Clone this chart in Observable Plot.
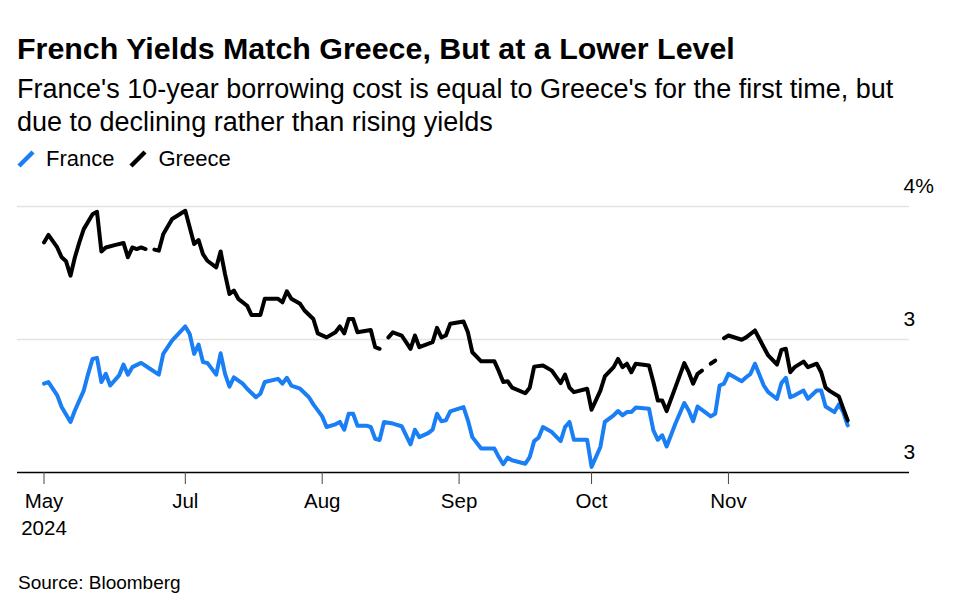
<!DOCTYPE html>
<html><head><meta charset="utf-8">
<script src="https://cdn.jsdelivr.net/npm/d3@7"></script>
<script src="https://cdn.jsdelivr.net/npm/@observablehq/plot@0.6"></script>
<style>
body{margin:0;background:#fff;font-family:"Liberation Sans",Arial,Helvetica,sans-serif;color:#000;}
#wrap{position:relative;width:964px;height:602px;overflow:hidden;background:#fff;}
.title{position:absolute;left:17px;top:30px;font-size:30.4px;font-weight:bold;line-height:36px;white-space:nowrap;}
.sub{position:absolute;left:17px;top:73px;font-size:27px;line-height:32.5px;width:905px;}
.legend{position:absolute;left:17px;top:146px;font-size:22px;line-height:26px;display:flex;align-items:center;}
.legend .item{display:flex;align-items:center;margin-right:15px;}
.legend svg{margin-right:11px;}
#chart{position:absolute;left:0;top:175px;}
.source{position:absolute;left:18px;top:571px;font-size:19px;line-height:24px;}
</style></head>
<body>
<div id="wrap">
  <div class="title">French Yields Match Greece, But at a Lower Level</div>
  <div class="sub">France's 10-year borrowing cost is equal to Greece's for the first time, but due to declining rather than rising yields</div>
  <div class="legend" id="legend"></div>
  <div id="chart"></div>
  <div class="source">Source: Bloomberg</div>
</div>
<script>
const seriesNames = ["France", "Greece"];
const seriesColors = ["#1a7ef5", "#000000"];

const xTickDates = ["2024-05-30", "2024-07-01", "2024-08-01", "2024-09-01", "2024-10-01", "2024-11-01"];
const xTickLabels = ["May\n2024", "Jul", "Aug", "Sep", "Oct", "Nov"];
const yTickValues = [3, 3.5, 4];
const yTickLabels = ["3", "3", "4%"];

const franceData = [
["2024-05-30",3.334],["2024-05-31",3.340],["2024-06-02",3.290],["2024-06-03",3.246],["2024-06-05",3.190],
["2024-06-06",3.233],["2024-06-08",3.308],["2024-06-09",3.371],["2024-06-10",3.427],["2024-06-11",3.431],
["2024-06-12",3.340],["2024-06-13",3.371],["2024-06-14",3.327],["2024-06-16",3.365],["2024-06-17",3.406],
["2024-06-18",3.368],["2024-06-19",3.396],["2024-06-21",3.412],["2024-06-23",3.390],["2024-06-25",3.368],
["2024-06-26",3.446],["2024-06-28",3.496],["2024-07-01",3.549],["2024-07-02",3.521],["2024-07-03",3.446],
["2024-07-04",3.481],["2024-07-05",3.415],["2024-07-06",3.412],["2024-07-08",3.368],["2024-07-09",3.448],
["2024-07-10",3.371],["2024-07-11",3.323],["2024-07-12",3.358],["2024-07-14",3.334],["2024-07-15",3.315],
["2024-07-17",3.283],["2024-07-18",3.296],["2024-07-19",3.340],["2024-07-22",3.352],["2024-07-23",3.334],
["2024-07-24",3.356],["2024-07-25",3.327],["2024-07-27",3.315],["2024-07-29",3.283],["2024-07-30",3.256],
["2024-08-01",3.211],["2024-08-02",3.171],["2024-08-04",3.181],["2024-08-05",3.190],["2024-08-06",3.161],
["2024-08-07",3.221],["2024-08-08",3.221],["2024-08-09",3.176],["2024-08-11",3.176],["2024-08-12",3.171],
["2024-08-13",3.127],["2024-08-14",3.122],["2024-08-15",3.190],["2024-08-17",3.184],["2024-08-19",3.174],
["2024-08-20",3.140],["2024-08-21",3.106],["2024-08-22",3.161],["2024-08-23",3.133],["2024-08-25",3.148],
["2024-08-26",3.161],["2024-08-27",3.221],["2024-08-28",3.193],["2024-08-29",3.196],["2024-08-30",3.230],
["2024-09-02",3.246],["2024-09-03",3.196],["2024-09-04",3.133],["2024-09-06",3.090],["2024-09-09",3.090],
["2024-09-10",3.058],["2024-09-11",3.031],["2024-09-12",3.056],["2024-09-13",3.046],["2024-09-16",3.033],
["2024-09-17",3.058],["2024-09-18",3.118],["2024-09-19",3.131],["2024-09-20",3.171],["2024-09-22",3.152],
["2024-09-24",3.118],["2024-09-25",3.171],["2024-09-26",3.190],["2024-09-27",3.123],["2024-09-30",3.123],
["2024-10-01",3.021],["2024-10-03",3.096],["2024-10-04",3.190],["2024-10-06",3.215],["2024-10-07",3.231],
["2024-10-08",3.215],["2024-10-09",3.227],["2024-10-10",3.227],["2024-10-11",3.244],["2024-10-14",3.240],
["2024-10-15",3.158],["2024-10-16",3.123],["2024-10-17",3.140],["2024-10-18",3.098],["2024-10-20",3.184],
["2024-10-22",3.261],["2024-10-23",3.233],["2024-10-24",3.193],["2024-10-25",3.248],["2024-10-28",3.211],
["2024-10-29",3.221],["2024-10-30",3.327],["2024-10-31",3.334],["2024-11-01",3.371],["2024-11-04",3.343],
["2024-11-05",3.358],["2024-11-06",3.371],["2024-11-07",3.409],["2024-11-09",3.327],["2024-11-10",3.302],
["2024-11-12",3.277],["2024-11-13",3.336],["2024-11-14",3.356],["2024-11-15",3.283],["2024-11-16",3.290],
["2024-11-18",3.308],["2024-11-19",3.277],["2024-11-21",3.308],["2024-11-22",3.308],["2024-11-23",3.248],
["2024-11-25",3.227],["2024-11-26",3.256],["2024-11-27",3.227],["2024-11-28",3.177]
];

const greeceData = [
["2024-05-30",3.865],["2024-05-31",3.893],["2024-06-02",3.846],["2024-06-03",3.809],["2024-06-04",3.794],
["2024-06-05",3.740],["2024-06-06",3.809],["2024-06-07",3.865],["2024-06-08",3.915],["2024-06-10",3.971],
["2024-06-11",3.980],["2024-06-12",3.831],["2024-06-13",3.846],["2024-06-15",3.855],["2024-06-17",3.863],
["2024-06-18",3.809],["2024-06-19",3.846],["2024-06-20",3.840],["2024-06-21",3.846],["2024-06-22",3.840],
["2024-06-23",null],
["2024-06-24",3.838],["2024-06-25",3.834],["2024-06-26",3.896],["2024-06-28",3.953],["2024-07-01",3.984],
["2024-07-03",3.859],["2024-07-04",3.874],["2024-07-05",3.821],["2024-07-06",3.796],["2024-07-08",3.771],
["2024-07-09",3.831],["2024-07-10",3.746],["2024-07-11",3.671],["2024-07-12",3.684],["2024-07-13",3.653],
["2024-07-15",3.627],["2024-07-16",3.592],["2024-07-18",3.592],["2024-07-19",3.653],["2024-07-22",3.653],
["2024-07-23",3.640],["2024-07-24",3.681],["2024-07-25",3.653],["2024-07-27",3.634],["2024-07-28",3.609],
["2024-07-30",3.577],["2024-07-31",3.523],["2024-08-02",3.508],["2024-08-04",3.527],["2024-08-05",3.549],
["2024-08-06",3.523],["2024-08-07",3.577],["2024-08-08",3.577],["2024-08-09",3.527],["2024-08-12",3.536],
["2024-08-13",3.471],["2024-08-14",3.465],
["2024-08-15",null],
["2024-08-16",3.508],["2024-08-17",3.527],["2024-08-19",3.515],["2024-08-20",3.490],["2024-08-21",3.465],
["2024-08-22",3.515],["2024-08-23",3.471],["2024-08-26",3.490],["2024-08-27",3.544],["2024-08-28",3.508],
["2024-08-29",3.515],["2024-08-30",3.559],["2024-09-02",3.568],["2024-09-03",3.527],["2024-09-04",3.452],
["2024-09-06",3.418],["2024-09-09",3.418],["2024-09-10",3.381],["2024-09-11",3.340],["2024-09-12",3.343],
["2024-09-13",3.319],["2024-09-16",3.298],["2024-09-17",3.319],["2024-09-18",3.398],["2024-09-20",3.402],
["2024-09-22",3.383],["2024-09-24",3.336],["2024-09-25",3.368],["2024-09-26",3.319],["2024-09-27",3.302],
["2024-09-30",3.315],["2024-10-01",3.236],["2024-10-03",3.308],["2024-10-04",3.361],["2024-10-06",3.396],
["2024-10-07",3.427],["2024-10-08",3.396],["2024-10-09",3.409],["2024-10-10",3.377],["2024-10-11",3.409],
["2024-10-14",3.402],["2024-10-15",3.340],["2024-10-16",3.271],["2024-10-17",3.271],["2024-10-18",3.231],
["2024-10-20",3.321],["2024-10-22",3.411],["2024-10-23",3.377],["2024-10-24",3.334],["2024-10-25",3.371],
["2024-10-26",3.383],
["2024-10-27",null],
["2024-10-28",3.409],["2024-10-29",3.421],
["2024-10-30",null],
["2024-10-31",3.505],["2024-11-01",3.515],["2024-11-04",3.499],["2024-11-05",3.508],["2024-11-07",3.534],
["2024-11-09",3.471],["2024-11-10",3.440],["2024-11-12",3.406],["2024-11-13",3.461],["2024-11-14",3.465],
["2024-11-15",3.377],["2024-11-16",3.396],["2024-11-18",3.417],["2024-11-19",3.396],["2024-11-21",3.409],
["2024-11-22",3.377],["2024-11-23",3.319],["2024-11-24",3.306],["2024-11-26",3.286],["2024-11-27",3.240],
["2024-11-28",3.196]
];

// legend
const legend = document.getElementById("legend");
seriesNames.forEach((name, i) => {
  const item = document.createElement("div");
  item.className = "item";
  item.innerHTML = `<svg width="18" height="18" viewBox="0 0 18 18"><line x1="2" y1="16" x2="16" y2="2" stroke="${seriesColors[i]}" stroke-width="4.5"/></svg><span>${name}</span>`;
  legend.appendChild(item);
});

const fontFamily = '"Liberation Sans", Arial, Helvetica, sans-serif';
const xTickObjs = xTickDates.map(d => new Date(d));
const xFmt = d => xTickLabels[xTickObjs.findIndex(t => +t === +d)];
const yFmt = v => yTickLabels[yTickValues.indexOf(v)];
const X = d => new Date(d[0]);
const Y = d => d[1];

const chart = Plot.plot({
  width: 964,
  height: 375,
  marginLeft: 17,
  marginRight: 55,
  marginTop: 31,
  marginBottom: 78,
  x: {type: "utc", domain: [new Date("2024-05-24"), new Date("2024-12-12")]},
  y: {domain: [3, 4]},
  style: {fontFamily, fontSize: "20px", color: "#000", background: "#fff"},
  marks: [
    Plot.gridY(yTickValues.filter(v => v > 3), {stroke: "#e3e3e3", strokeOpacity: 1, strokeWidth: 1.5}),
    Plot.axisY(yTickValues, {anchor: "right", tickSize: 0, tickFormat: yFmt, textAnchor: "start", dx: -15, dy: -20, fontSize: 21, fill: "#000"}),
    Plot.ruleY([3], {stroke: "#000", strokeWidth: 1.5}),
    Plot.axisX(xTickObjs, {tickSize: 12, tickPadding: 4, tickFormat: xFmt, fontSize: 20.5, lineHeight: 1.32, stroke: "#444", fill: "#000"}),
    Plot.line(franceData, {x: X, y: Y, stroke: seriesColors[0], strokeWidth: 4}),
    Plot.line(greeceData, {x: X, y: Y, stroke: seriesColors[1], strokeWidth: 4})
  ]
});
document.getElementById("chart").appendChild(chart);
</script>
</body></html>
